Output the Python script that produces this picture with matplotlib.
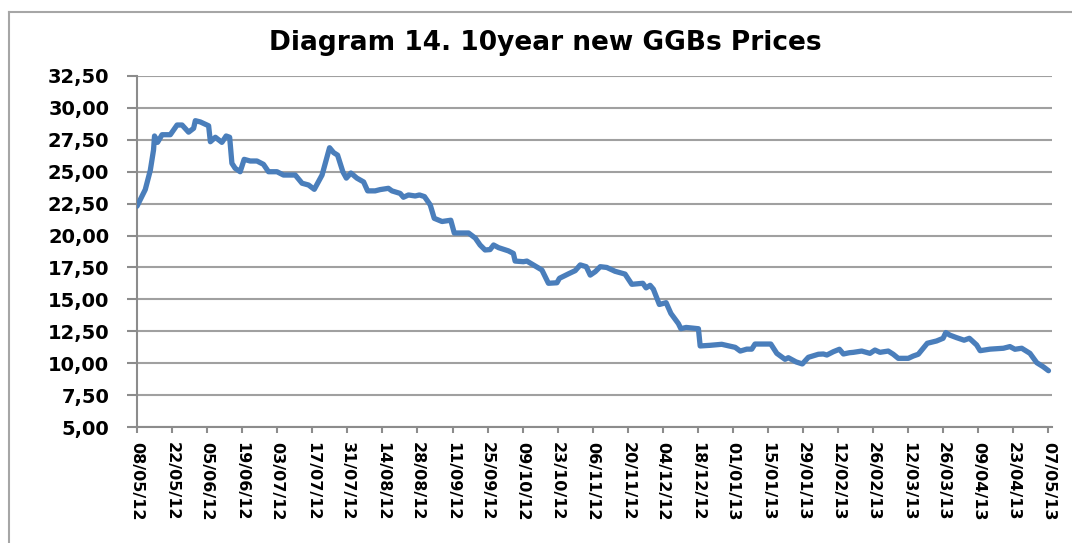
import matplotlib
matplotlib.use("Agg")
import matplotlib.pyplot as plt
import matplotlib.dates as mdates
from matplotlib.ticker import FuncFormatter, MultipleLocator
from matplotlib.lines import Line2D
import pandas as pd

title = "Diagram 14. 10year new GGBs Prices"
start_date = "2012-05-08"
end_date = "2013-05-07"

# days since 08/05/12 and price
day_offsets = [0, 3.3, 5.3, 6.6, 7.0, 8.2, 10.0, 13.3, 16.0, 18.0, 20.6, 22.6, 23.3, 25.3,
               28.6, 29.3, 31.3, 33.9, 35.6, 37.0, 37.9, 39.2, 41.2, 42.8, 45.2, 47.9, 50.5,
               52.5, 55.9, 58.5, 63.2, 65.9, 68.5, 70.8, 73.9, 76.9, 78.5, 80.1, 82.2, 83.6,
               85.4, 87.8, 90.5, 92.1, 95.1, 97.1, 100.4, 101.8, 105.1, 106.4, 108.4, 111.1,
               112.8, 114.8, 117.1, 118.7, 121.8, 125.3, 126.7, 132.4, 135.1, 137.0, 139.0,
               141.0, 142.4, 144.4, 148.3, 150.3, 151.0, 154.3, 155.7, 158.3, 161.7, 163.0,
               164.3, 167.7, 168.7, 172.3, 175.0, 177.0, 179.4, 181.0, 183.0, 185.0, 187.6,
               190.9, 194.9, 197.6, 202.0, 203.3, 204.9, 206.2, 208.6, 211.3, 213.2, 216.2,
               217.2, 219.3, 224.2, 224.9, 228.9, 233.5, 238.9, 240.9, 243.5, 245.5, 246.8,
               253.1, 255.5, 258.8, 260.1, 263.2, 265.7, 268.1, 272.1, 274.1, 275.5, 278.1,
               280.5, 282.1, 284.5, 286.1, 289.4, 292.7, 294.7, 296.7, 300.0, 302.0, 304.0,
               308.0, 310.0, 312.0, 315.6, 319.3, 321.9, 323.0, 324.6, 327.3, 330.3, 332.4,
               335.3, 336.7, 340.7, 346.0, 348.6, 350.6, 353.3, 356.6, 359.3, 361.9, 364.0]
prices = [22.3, 23.6, 25.1, 26.7, 27.8, 27.3, 27.9, 27.9, 28.66, 28.66, 28.1, 28.4, 29.0, 28.9,
          28.6, 27.35, 27.7, 27.3, 27.8, 27.7, 25.66, 25.27, 25.0, 25.97, 25.84, 25.84, 25.58,
          25.0, 25.0, 24.74, 24.74, 24.1, 23.96, 23.62, 24.74, 26.88, 26.5, 26.3, 25.0, 24.5,
          24.9, 24.5, 24.2, 23.5, 23.5, 23.6, 23.7, 23.5, 23.3, 23.0, 23.18, 23.1,
          23.18, 23.05, 22.4, 21.35, 21.1, 21.2, 20.2, 20.2, 19.8, 19.26, 18.87,
          18.9, 19.26, 19.05, 18.8, 18.6, 18.0, 17.95, 18.0, 17.7, 17.3, 16.78,
          16.26, 16.3, 16.65, 17.0, 17.25, 17.7, 17.56, 16.9, 17.17, 17.56, 17.5,
          17.2, 16.98, 16.18, 16.26, 15.9, 16.1, 15.8, 14.6, 14.74, 13.9, 13.1,
          12.7, 12.8, 12.7, 11.35, 11.4, 11.48, 11.24, 10.95, 11.1, 11.1, 11.5,
          11.5, 10.77, 10.3, 10.43, 10.1, 9.94, 10.46, 10.7, 10.72, 10.64, 10.9,
          11.09, 10.72, 10.82, 10.85, 10.95, 10.77, 11.03, 10.85, 10.95, 10.7, 10.38,
          10.38, 10.56, 10.7, 11.56, 11.74, 11.95, 12.4, 12.2, 12.0, 11.8, 11.95,
          11.43, 10.98, 11.1, 11.17, 11.3, 11.09, 11.17, 10.77, 10.04, 9.72, 9.41]

y_min, y_max, y_step = 5.0, 32.5, 2.5
tick_interval_days = 14

W, H = 1072, 543
fig = plt.figure(figsize=(W / 100, H / 100), dpi=100)
fig.patch.set_facecolor("white")

# outer chart border (left and top visible)
border_col = "#a6a6a6"
fig.add_artist(Line2D([9 / W, 9 / W], [0, 1 - 12 / H], transform=fig.transFigure,
                      color=border_col, lw=1.5))
fig.add_artist(Line2D([9 / W, 1], [1 - 12 / H, 1 - 12 / H], transform=fig.transFigure,
                      color=border_col, lw=1.5))

left, right, top, bottom = 137, 1052, 76, 427
ax = fig.add_axes([left / W, 1 - bottom / H, (right - left) / W, (bottom - top) / H])

t0 = pd.Timestamp(start_date)
dates = [t0 + pd.Timedelta(days=d) for d in day_offsets]
ax.plot(dates, prices, color="#4a7ebb", lw=3.8, solid_joinstyle="round",
        solid_capstyle="round", zorder=3)

ticks = pd.date_range(start_date, end_date, freq=f"{tick_interval_days}D")
ax.set_xticks(ticks)
ax.xaxis.set_major_formatter(mdates.DateFormatter("%d/%m/%y"))
ax.set_xlim(t0, t0 + pd.Timedelta(days=365.4))

ax.set_ylim(y_min, y_max)
ax.yaxis.set_major_locator(MultipleLocator(y_step))
ax.yaxis.set_major_formatter(FuncFormatter(lambda v, p: f"{v:.2f}".replace(".", ",")))

grid_col = "#a0a0a0"
ax.grid(axis="y", color=grid_col, lw=1.5, zorder=0)
ax.grid(axis="x", visible=False)
for s in ["top", "right"]:
    ax.spines[s].set_visible(False)
for s in ["left", "bottom"]:
    ax.spines[s].set_color("#8c8c8c")
    ax.spines[s].set_linewidth(1.5)

ax.tick_params(axis="y", length=7, width=1.5, color="#8c8c8c", pad=13, labelsize=14)
ax.tick_params(axis="x", length=4, width=1.5, color="#8c8c8c", pad=7, labelsize=11.5,
               labelrotation=-90)
for lab in ax.get_yticklabels():
    lab.set_fontweight("bold")
for lab in ax.get_xticklabels():
    lab.set_fontweight("bold")
    lab.set_ha("center")
    lab.set_va("top")

fig.text(545 / W, 1 - 43 / H, title, ha="center", va="center", fontsize=19,
         fontweight="bold", family="DejaVu Sans")

fig.savefig("out.png", dpi=100, facecolor="white")
